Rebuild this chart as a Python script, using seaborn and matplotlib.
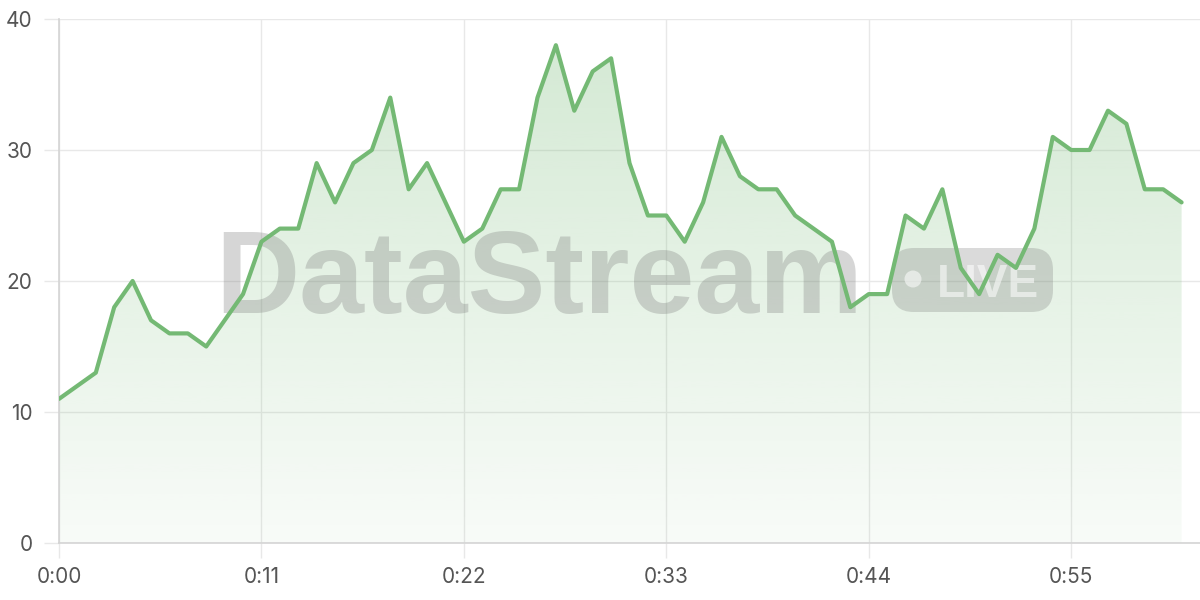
import numpy as np
import pandas as pd
import matplotlib
matplotlib.use("Agg")
import matplotlib.pyplot as plt
import seaborn as sns
from matplotlib.patches import FancyBboxPatch, Ellipse

seconds = list(range(62))
values = [11, 12, 13, 18, 20, 17, 16, 16, 15, 17,
          19, 23, 24, 24, 29, 26, 29, 30, 34, 27,
          29, 26, 23, 24, 27, 27, 34, 38, 33, 36,
          37, 29, 25, 25, 23, 26, 31, 28, 27, 27,
          25, 24, 23, 18, 19, 19, 25, 24, 27, 21,
          19, 22, 21, 24, 31, 30, 30, 33, 32, 27,
          27, 26]
x_ticks = [0, 11, 22, 33, 44, 55]
x_tick_labels = ["0:00", "0:11", "0:22", "0:33", "0:44", "0:55"]
y_ticks = [0, 10, 20, 30, 40]
watermark_main = "DataStream"
watermark_badge = "LIVE"

df = pd.DataFrame({"t": seconds, "v": values})

sns.set_theme(style="white")
plt.rcParams["font.family"] = ["Inter", "DejaVu Sans"]

LINE = "#74b974"
fig = plt.figure(figsize=(12, 6), dpi=100)
ax = fig.add_axes([59 / 1200, 57 / 600, 1141 / 1200, 524 / 600])

# gradient fill under the line
poly = ax.fill_between(df["t"], df["v"], 0, color="none", lw=0)
grad = np.linspace(0.05, 0.32, 256).reshape(-1, 1)
rgba = np.zeros((256, 1, 4))
rgb = matplotlib.colors.to_rgb(LINE)
rgba[..., 0], rgba[..., 1], rgba[..., 2] = rgb
rgba[..., 3] = grad
im = ax.imshow(rgba, extent=[0, 62, 0, 40], origin="lower", aspect="auto", zorder=1)
path = poly.get_paths()[0]
im.set_clip_path(path, transform=ax.transData)

sns.lineplot(data=df, x="t", y="v", ax=ax, color=LINE, lw=3, zorder=4)

ax.set_xlim(0, 62)
ax.set_ylim(0, 40)
ax.set_xticks(x_ticks)
ax.set_xticklabels(x_tick_labels)
ax.set_yticks(y_ticks)
ax.set_xlabel("")
ax.set_ylabel("")
ax.grid(True, color="#e8e8e8", lw=1, zorder=0)
ax.set_axisbelow(True)
for s in ["top", "right"]:
    ax.spines[s].set_visible(False)
ax.spines["left"].set_color("#d4d4d4")
ax.spines["bottom"].set_color("#d4d4d4")
ax.spines["left"].set_linewidth(1.2)
ax.spines["bottom"].set_linewidth(1.2)
ax.tick_params(axis="both", which="both", length=11, width=1, color="#e8e8e8",
               labelsize=15, labelcolor="#555555", pad=6, bottom=True, left=True)
ax.tick_params(axis="y", pad=8)

# watermark (between fill and line)
ft = fig.transFigure
ax.text(539 / 1200, 1 - 313 / 600, watermark_main, ha="center", va="baseline",
        fontsize=84, fontweight="bold", color="#7a7a7a", alpha=0.3,
        family=["Liberation Sans"], transform=ft, zorder=3)
bx0, by0, bw, bh = 892 / 1200, 1 - 312 / 600, 161 / 1200, 64 / 600
badge = FancyBboxPatch((bx0, by0), bw, bh, boxstyle="round,pad=0,rounding_size=0.018",
                       transform=ft, facecolor="#7a7a7a", alpha=0.28,
                       edgecolor="none", zorder=3, mutation_aspect=2.0)
ax.add_artist(badge)
dot = Ellipse((913 / 1200, 1 - 279 / 600), 17 / 1200, 17 / 600,
              transform=ft, facecolor="white", alpha=0.55, edgecolor="none", zorder=3)
ax.add_artist(dot)
ax.text(937 / 1200, 1 - 297 / 600, watermark_badge, ha="left", va="baseline",
        fontsize=33, fontweight="bold", color="white", alpha=0.55,
        family=["Liberation Sans"], transform=ft, zorder=3)

fig.savefig("out.png", dpi=100)
